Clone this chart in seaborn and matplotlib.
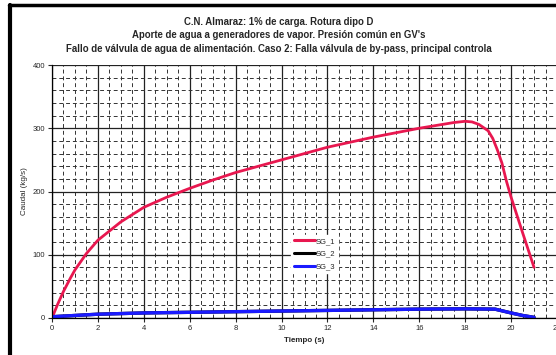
import numpy as np
import pandas as pd
import matplotlib
matplotlib.use("Agg")
import matplotlib.pyplot as plt
import seaborn as sns
from matplotlib.lines import Line2D
from matplotlib.ticker import MultipleLocator

# ---- data ----
t_sg1 = [0, 0.25, 0.5, 0.8, 1, 1.5, 2, 3, 4, 5, 6, 7, 8, 9, 10, 11, 12, 13, 14,
         15, 16, 17, 17.5, 18, 18.3, 18.6, 19, 19.2, 19.4, 19.6, 19.8, 20, 20.5, 21]
v_sg1 = [0, 22, 42, 63, 76, 102, 123, 152, 175, 191, 205, 218, 230, 240, 250,
         260, 270, 278, 286, 293, 300, 306, 309, 311, 310, 306, 296, 284, 266,
         245, 216, 191, 135, 80]
t_sg2 = [0, 0.5, 2, 4, 6, 8, 10, 12, 14, 16, 18, 19.3, 20, 20.5, 21]
v_sg2 = [2, 3, 6, 8, 9, 10, 11, 12, 13, 14, 14.5, 14, 8, 4, 1]
t_sg3 = [0, 0.5, 2, 4, 6, 8, 10, 12, 14, 16, 18, 19.3, 20, 20.5, 21]
v_sg3 = [2, 3, 6, 8, 9, 10, 11, 12, 13, 14, 14.5, 14, 8, 4, 1]
series_names = ["SG_1", "SG_2", "SG_3"]
series_colors = ["#e8174f", "#000000", "#1a1aff"]
x_ticks = list(range(0, 23, 2))
y_ticks = [0, 100, 200, 300, 400]
title_lines = ["C.N. Almaraz: 1% de carga. Rotura dipo D",
               "Aporte de agua a generadores de vapor. Presión común en GV's",
               "Fallo de válvula de agua de alimentación. Caso 2: Falla válvula de by-pass, principal controla"]
x_label = "Tiempo (s)"
y_label = "Caudal (kg/s)"

df = pd.concat([
    pd.DataFrame({"t": t_sg1, "v": v_sg1, "serie": "SG_1"}),
    pd.DataFrame({"t": t_sg2, "v": v_sg2, "serie": "SG_2"}),
    pd.DataFrame({"t": t_sg3, "v": v_sg3, "serie": "SG_3"}),
])

sns.set_style("white")
plt.rcParams["font.family"] = ["Liberation Sans", "DejaVu Sans"]

fig = plt.figure(figsize=(5.56, 3.55), dpi=100)
W, H = 556, 355
ax = fig.add_axes([52 / W, 1 - 318 / H, (557 - 52) / W, (318 - 65) / H])

sns.lineplot(data=df, x="t", y="v", hue="serie", hue_order=series_names,
             palette=dict(zip(series_names, series_colors)), ax=ax,
             linewidth=2.0, estimator=None, sort=False, legend=False)
for ln in ax.get_lines()[1:]:
    ln.set_linewidth(2.4)

ax.set_xlim(0, 22)
ax.set_ylim(0, 400)
ax.set_xticks(x_ticks)
ax.set_yticks(y_ticks)
ax.xaxis.set_minor_locator(MultipleLocator(0.5))
ax.yaxis.set_minor_locator(MultipleLocator(20))
ax.grid(True, which="major", color="#222222", linewidth=0.9)
ax.grid(True, which="minor", color="#333333", linewidth=0.7, linestyle=(0, (4, 3)))
ax.set_axisbelow(True)
for s in ["left", "bottom"]:
    ax.spines[s].set_color("black")
    ax.spines[s].set_linewidth(0.9)
for s in ["top", "right"]:
    ax.spines[s].set_visible(False)
ax.tick_params(axis="both", which="major", labelsize=5.5, length=3, width=0.8,
               direction="out", bottom=True, left=True, pad=2)
ax.tick_params(axis="both", which="minor", length=0)
ax.set_xlabel(x_label, fontsize=5.8, fontweight="bold", labelpad=4)
ax.set_ylabel(y_label, fontsize=5.8, labelpad=3)

handles = [Line2D([0], [0], color=c, lw=2.2) for c in series_colors]
leg = ax.legend(handles, series_names, loc="upper left",
                bbox_to_anchor=(0.465, 0.345), fontsize=5.5, frameon=True,
                handlelength=2.8, handletextpad=0.1, labelspacing=0.7,
                borderpad=0.4, fancybox=False)
leg.get_frame().set_edgecolor("white")
leg.get_frame().set_facecolor("white")
leg.get_frame().set_alpha(1)

for i, line in enumerate(title_lines):
    fig.text(279 / W, 1 - (22 + 13.5 * i) / H, line,
             ha="center", va="center", fontsize=6.9, fontweight="bold")

# outer frame (thick left and top borders)
fig.add_artist(Line2D([10 / W, 10 / W], [0, 1 - 5 / H], color="black", lw=3,
                      transform=fig.transFigure))
fig.add_artist(Line2D([9 / W, 1], [1 - 5 / H, 1 - 5 / H], color="black", lw=2.5,
                      transform=fig.transFigure))

fig.savefig("out.png", dpi=100)
